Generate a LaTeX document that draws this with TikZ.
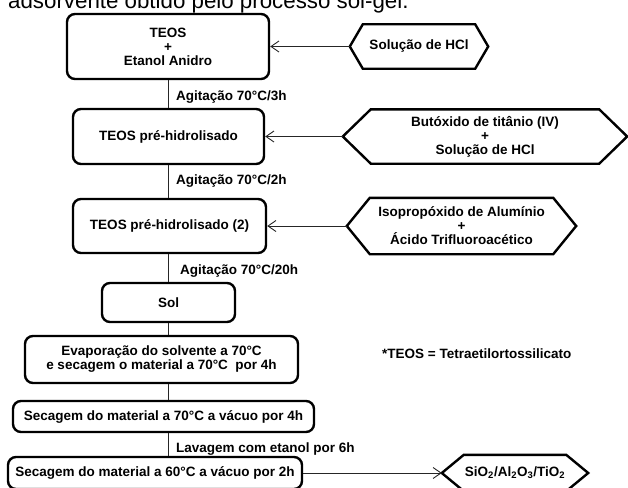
\documentclass[tikz,border=0pt]{standalone}
\usepackage{fontspec}
\setmainfont{Liberation Sans}
\usetikzlibrary{arrows.meta}
\tikzset{stepbox/.style = {draw, line width=2.4pt, rounded corners=8pt, align=center, inner sep=0,
    font=\bfseries\fontsize{13.5}{14}\selectfont}}
\tikzset{hexbox/.style = {inner sep=0, align=center, font=\bfseries\fontsize{13.5}{14}\selectfont}}
\tikzset{hexline/.style = {line width=2.4pt, line join=miter}}
\tikzset{lbl/.style = {anchor=base west, inner sep=0, font=\bfseries\fontsize{13.5}{14}\selectfont}}
\tikzset{link/.style = {line width=0.9pt, black!85}}
\tikzset{flow/.style = {link, -{Straight Barb[length=8pt, width=11pt]}}}
% name, x, y, width of top edge, height, slant, text
\newcommand{\hexnode}[7]{%
  \node [hexbox, minimum width=#4pt, minimum height=#5pt] (#1) at (#2, #3) {#7};
  \draw [hexline] (#1.north west) -- (#1.north east) -- ([xshift=#6pt]#1.east)
    -- (#1.south east) -- (#1.south west) -- ([xshift=-#6pt]#1.west) -- cycle;
  \coordinate (#1-l) at ([xshift=-#6pt]#1.west);
  \coordinate (#1-r) at ([xshift=#6pt]#1.east);
}

\begin{document}
\begin{tikzpicture}[x=1pt, y=-1pt]
      \useasboundingbox (0, 0) rectangle (628, 487);
      \clip (0, 0) rectangle (628, 487);

      \node [anchor=base west, inner sep=0, font=\fontsize{22.3}{24}\selectfont] (title) at (8, 8.5)
        {adsorvente obtido pelo processo sol-gel.};

      \node [stepbox, minimum width=202pt, minimum height=65pt] (teos) at (168, 46.5) {TEOS\\+\\Etanol Anidro};
      \node [stepbox, minimum width=191pt, minimum height=55pt] (prehid) at (168.5, 136.5) {TEOS pré-hidrolisado};
      \node [stepbox, minimum width=193pt, minimum height=54pt] (prehidb) at (169.5, 226) {TEOS pré-hidrolisado (2)};
      \node [stepbox, minimum width=133pt, minimum height=39pt] (sol) at (168.5, 302.5) {Sol};
      \node [stepbox, minimum width=273pt, minimum height=47pt] (evap) at (161.5, 359.5)
        {Evaporação do solvente a 70°C\\e secagem o material a 70°C~ por 4h};
      \node [stepbox, minimum width=301pt, minimum height=31pt] (vac) at (163.5, 416.5)
        {Secagem do material a 70°C a vácuo por 4h};
      \node [stepbox, minimum width=294pt, minimum height=32pt] (vacb) at (155, 473)
        {Secagem do material a 60°C a vácuo por 2h};

      \foreach \a/\b in {teos/prehid, prehid/prehidb, prehidb/sol, sol/evap, evap/vac, vac/vacb} {
        \draw [link] (teos.south |- \a.south) -- (teos.south |- \b.north);
      }

      \node [lbl] (agita) at (176, 100) {Agitação 70°C/3h};
      \node [lbl] (agitb) at (176, 184) {Agitação 70°C/2h};
      \node [lbl] (agitc) at (180, 274) {Agitação 70°C/20h};
      \node [lbl] (lavag) at (176, 452) {Lavagem com etanol por 6h};
      \node [lbl] (note) at (382, 358) {*TEOS = Tetraetilortossilicato};

      \hexnode{hcl}{419}{46.5}{112}{44}{13}{Solução de HCl}
      \hexnode{buto}{485}{136.5}{228}{54}{28}{Butóxido de titânio (IV)\\+\\Solução de HCl}
      \hexnode{isop}{461.5}{226}{183}{56}{23}{Isopropóxido de Alumínio\\+\\Ácido Trifluoroacético}
      \hexnode{prod}{515}{473}{102}{36}{22}{SiO\textsubscript{2}/Al\textsubscript{2}O\textsubscript{3}/TiO\textsubscript{2}}

      \draw [flow] (hcl-l) -- (teos);
      \draw [flow] (buto-l) -- (prehid);
      \draw [flow] (isop-l) -- (prehidb);
      \draw [flow] (vacb) -- (prod-l);
    \end{tikzpicture}
\end{document}
